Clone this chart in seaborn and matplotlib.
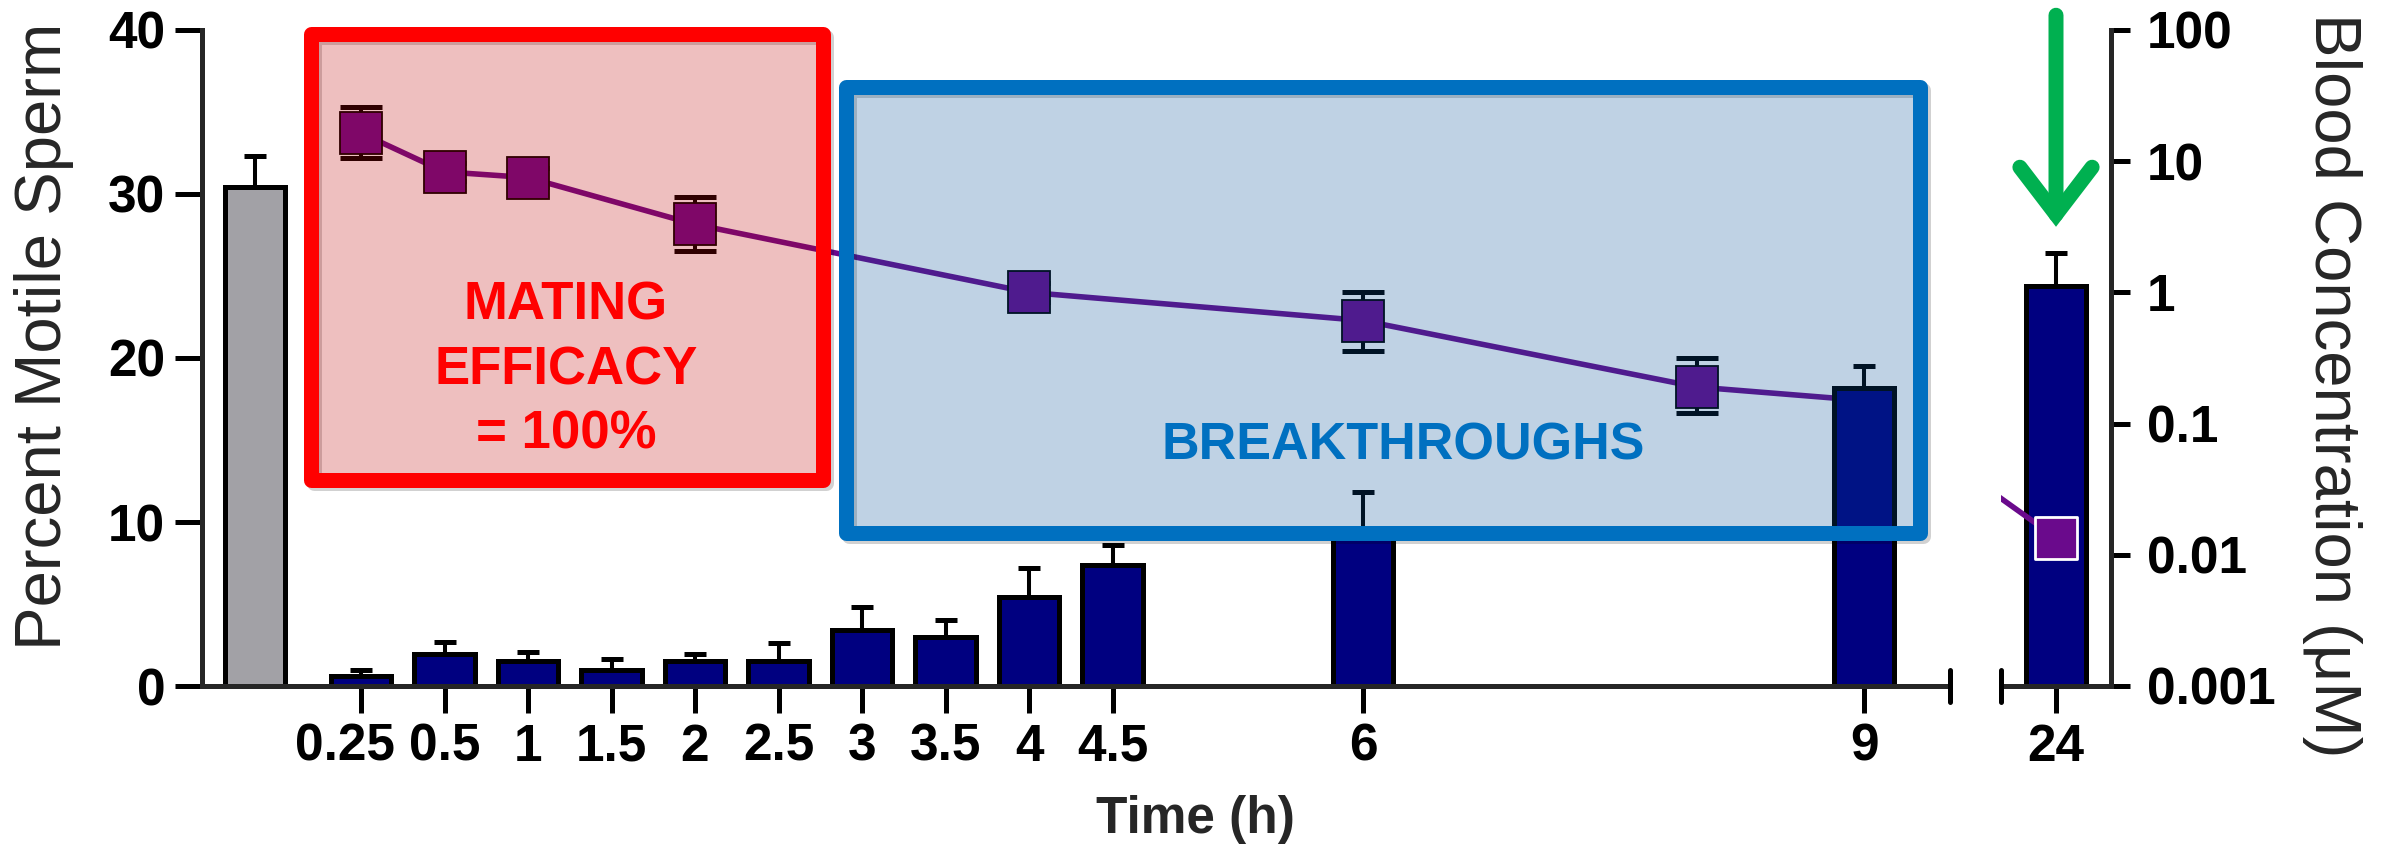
import numpy as np
import pandas as pd
import matplotlib
matplotlib.use("Agg")
import matplotlib.pyplot as plt
import seaborn as sns
from matplotlib.patches import Rectangle, ConnectionPatch
from matplotlib.ticker import FuncFormatter, NullLocator
from matplotlib.transforms import ScaledTranslation

# ------------------------------
# data
# ------------------------------
control_motile = 30.4
control_sem = 1.9

time_labels = ["0.25", "0.5", "1", "1.5", "2", "2.5", "3", "3.5", "4", "4.5", "6", "9", "24"]
motile_pct = [0.6, 1.95, 1.55, 0.95, 1.5, 1.55, 3.4, 3.0, 5.4, 7.4, 9.6, 18.2, 24.4]
motile_sem = [0.4, 0.75, 0.5, 0.7, 0.45, 1.05, 1.4, 1.0, 1.8, 1.2, 2.2, 1.3, 2.0]

# blood concentration (uM); the 9 h point sits behind the 9 h bar
conc_labels = ["0.25", "0.5", "1", "2", "4", "6", "8", "9", "24"]
conc_uM = [16.4, 8.3, 7.5, 3.3, 1.0, 0.61, 0.19, 0.15, 0.0135]
conc_low = [10.5, 7.06, 6.4, 2.06, 0.85, 0.36, 0.12, 0.15, 0.0135]
conc_high = [25.9, 9.75, 8.8, 5.3, 1.18, 1.0, 0.315, 0.15, 0.0135]

# ------------------------------
# style
# ------------------------------
NAVY = "#000080"
GREY = "#A2A1A6"
PURPLE = "#6A0A8C"
GREEN = "#00B050"
LW = 3.6          # spine / edge width (pt)
TICK_LEN = 19.4
FS_TICK = 37
FS_LABEL = 47

sns.set_theme(style="ticks")
plt.rcParams["font.family"] = ["Liberation Sans", "DejaVu Sans"]
plt.rcParams["font.weight"] = "bold"
plt.rcParams["axes.linewidth"] = LW

W, H, DPI = 2394, 850, 100
fig = plt.figure(figsize=(W / DPI, H / DPI), dpi=DPI)
fig.patch.set_facecolor("white")

Y_TOP, Y_BOT = 30, 686      # pixel rows of 40 % and 0 %
PITCH = 83.5                # pixels per half-hour slot


def rect(x0, x1):
    return [x0 / W, 1 - Y_BOT / H, (x1 - x0) / W, (Y_BOT - Y_TOP) / H]


ax0 = fig.add_axes(rect(202, 305))     # control
ax1 = fig.add_axes(rect(305, 1950))    # 0.25 - 9 h
ax2 = fig.add_axes(rect(2001, 2111))   # 24 h

# half-hour slots of the first time segment (0.25 h takes the first slot)
slots = ["0.25"] + [f"{t:g}" for t in np.arange(0.5, 9.01, 0.5)]

bar_kw = dict(saturation=1, width=0.72, edgecolor="black", linewidth=LW,
              errorbar=None, zorder=2)
err_kw = dict(fmt="none", ecolor="black", elinewidth=2.9, capsize=7.9,
              capthick=3.6, zorder=1)

# control bar
sns.barplot(x=["Control"], y=[control_motile], color=GREY, ax=ax0, **bar_kw)
ax0.errorbar([0], [control_motile], yerr=[[0], [control_sem]], **err_kw)

# time course bars
df1 = pd.DataFrame({"time": time_labels[:-1], "motile": motile_pct[:-1]})
sns.barplot(data=df1, x="time", y="motile", order=slots, color=NAVY, ax=ax1, **bar_kw)
pos1 = [slots.index(t) for t in time_labels[:-1]]
ax1.errorbar(pos1, motile_pct[:-1],
             yerr=[np.zeros(len(pos1)), motile_sem[:-1]], **err_kw)

# 24 h bar
sns.barplot(x=[time_labels[-1]], y=[motile_pct[-1]], color=NAVY, ax=ax2, **bar_kw)
ax2.errorbar([0], [motile_pct[-1]], yerr=[[0], [motile_sem[-1]]], **err_kw)

for ax in (ax0, ax1, ax2):
    ax.set_ylim(0, 40)
    ax.set_xlabel("")
    ax.set_ylabel("")
    ax.patch.set_visible(False)
    for s in ("top", "right", "left"):
        ax.spines[s].set_visible(False)
    ax.spines["bottom"].set_linewidth(LW)

# concentration on log axes
ax1r = ax1.twinx()
ax2r = ax2.twinx()
for axr in (ax1r, ax2r):
    axr.set_yscale("log")
    axr.set_ylim(1e-3, 100)
    for s in axr.spines.values():
        s.set_visible(False)
    axr.yaxis.set_minor_locator(NullLocator())

conc_pos = [slots.index(t) for t in conc_labels[:-1]]
shown = len(conc_pos) - 1   # last point of this segment is hidden by the 9 h bar
c = np.array(conc_uM[:-1])
ax1r.errorbar(conc_pos[:shown], c[:shown],
              yerr=[c[:shown] - np.array(conc_low[:shown]),
                    np.array(conc_high[:shown]) - c[:shown]],
              fmt="none", ecolor="black", elinewidth=2.9, capsize=15,
              capthick=3.6, zorder=1)
sns.lineplot(x=conc_pos, y=conc_uM[:-1], ax=ax1r, color=PURPLE, lw=4,
             marker="s", markersize=30, markerfacecolor=PURPLE,
             markeredgecolor="black", markeredgewidth=1.3,
             markevery=list(range(shown)), zorder=2)
ax1r.tick_params(which="both", right=False, labelright=False)

# line across the axis break, clipped to the 24 h segment
con = ConnectionPatch(xyA=(conc_pos[-1], conc_uM[-2]), coordsA=ax1r.transData,
                      xyB=(0, conc_uM[-1]), coordsB=ax2r.transData,
                      color=PURPLE, lw=4, zorder=2)
ax2r.add_artist(con)
con.set_clip_on(True)
con.set_clip_path(ax2r.patch)
sns.scatterplot(x=[0], y=[conc_uM[-1]], ax=ax2r, marker="s", s=30 ** 2,
                color=PURPLE, edgecolor="white", linewidth=2, zorder=3)

# bars above the line in the first segment
ax1r.set_zorder(1)
ax1.set_zorder(2)
ax2.set_zorder(2)
ax2r.set_zorder(3)

# ------------------------------
# axes, ticks
# ------------------------------
ax0.spines["left"].set_visible(True)
ax0.spines["left"].set_linewidth(LW)
ax0.set_yticks([0, 10, 20, 30, 40])
ax0.set_xticks([])
ax0.tick_params(axis="y", length=TICK_LEN, width=LW, pad=7, labelsize=FS_TICK,
                color="black", labelcolor="black")
ax0.set_xlim(-(255 - 202) / PITCH, (305 - 255) / PITCH)

ax1.set_xticks(pos1, time_labels[:-1])
ax1.set_yticks([])
ax1.tick_params(axis="x", length=TICK_LEN, width=LW, pad=7, labelsize=FS_TICK,
                color="black", labelcolor="black")
ax1.set_xlim(-(361 - 305) / PITCH, (1950 - 361) / PITCH)
# the first label sits a little left of its tick, as in the source figure
first = ax1.get_xticklabels()[0]
first.set_transform(first.get_transform() +
                    ScaledTranslation(-16 / DPI, 0, fig.dpi_scale_trans))

ax2.set_xticks([0], [time_labels[-1]])
ax2.set_yticks([])
ax2.tick_params(axis="x", length=TICK_LEN, width=LW, pad=7, labelsize=FS_TICK,
                color="black", labelcolor="black")
ax2.set_xlim(-55 / PITCH, 55 / PITCH)

ax2r.spines["right"].set_visible(True)
ax2r.spines["right"].set_linewidth(LW)
ax2r.set_yticks([1e-3, 1e-2, 0.1, 1, 10, 100])
ax2r.yaxis.set_major_formatter(FuncFormatter(lambda v, _: f"{v:g}"))
ax2r.tick_params(axis="y", length=13.7, width=LW, pad=12, labelsize=FS_TICK,
                 color="black", labelcolor="black")
ax2r.set_xlim(ax2.get_xlim())

# axis break marks
for ax, xa in ((ax1, 1), (ax2, 0)):
    ax.plot([xa, xa], [-0.98, 0.98], transform=ax.get_yaxis_transform(),
            color="black", lw=LW, clip_on=False, zorder=5)

# labels
fig.text(44 / W, 1 - 336 / H, "Percent Motile Sperm", rotation=90,
         ha="center", va="center", fontsize=FS_LABEL, fontweight="normal")
fig.text(2332 / W, 1 - 385 / H, "Blood Concentration (μM)", rotation=270,
         ha="center", va="center", fontsize=FS_LABEL, fontweight="normal")
fig.text(1195 / W, 1 - 833 / H, "Time (h)", ha="center", va="baseline",
         fontsize=FS_TICK)

# ------------------------------
# highlight boxes
# ------------------------------
def box(x0, y0, x1, y1, edge, face):
    r = dict(xy=(x0 / W, 1 - y1 / H), width=(x1 - x0) / W, height=(y1 - y0) / H,
             transform=fig.transFigure, lw=10.8, joinstyle="round")
    shadow = Rectangle(**r, fill=False, edgecolor=(0, 0, 0, 0.18), zorder=9)
    shadow.set_transform(fig.transFigure +
                         ScaledTranslation(3 / DPI, -3 / DPI, fig.dpi_scale_trans))
    fig.add_artist(shadow)
    fig.add_artist(Rectangle(**r, facecolor=face, edgecolor=edge, zorder=10))


box(310.5, 33.5, 822.5, 479.5, "#FF0000", (0.75, 0.0, 0.0, 0.25))
box(845.5, 86.5, 1919.5, 532.5, "#0070C0", (0.0, 0.31, 0.58, 0.25))

for txt, yb in (("MATING", 320), ("EFFICACY", 385), ("= 100%", 448)):
    fig.text(566 / W, 1 - yb / H, txt, ha="center", va="baseline",
             color="#FF0000", fontsize=38, zorder=11)
fig.text(1403 / W, 1 - 460 / H, "BREAKTHROUGHS", ha="center", va="baseline",
         color="#0070C0", fontsize=37.5, zorder=11)

# green arrow pointing at the 24 h bar
ax2.annotate("", xy=(0, 28.0), xytext=(0, 40.9), xycoords="data",
             annotation_clip=False,
             arrowprops=dict(arrowstyle="->,head_length=34,head_width=26",
                             mutation_scale=1, color=GREEN, lw=10.8,
                             shrinkA=0, shrinkB=0, capstyle="round",
                             joinstyle="miter"))

fig.savefig("out.png", dpi=DPI)
